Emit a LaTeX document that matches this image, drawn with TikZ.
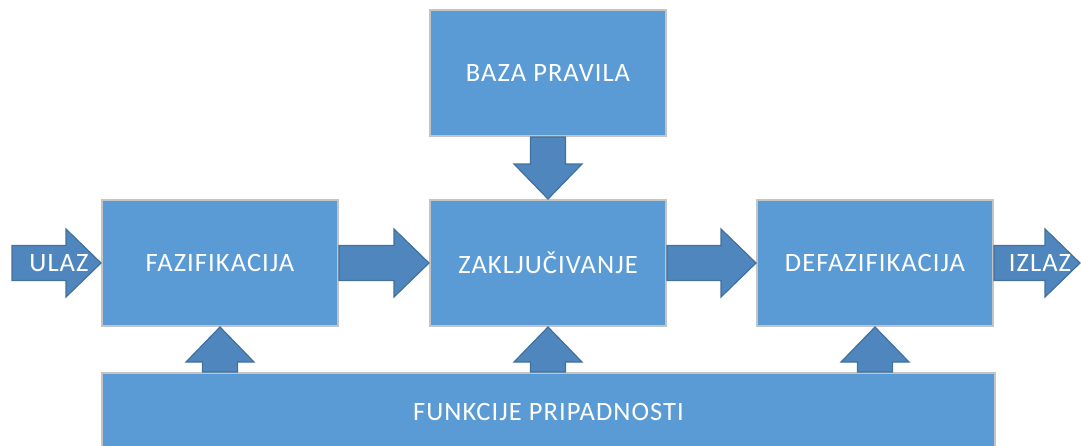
\documentclass[tikz,border=0pt]{standalone}
\usepackage{fontspec}
\setmainfont{Carlito}[LetterSpace=4.0]
\usetikzlibrary{calc}
\usetikzlibrary{positioning}
\definecolor{boxfill}{HTML}{5B9BD5}
\definecolor{boxedge}{HTML}{C4C4C4}
\definecolor{arrowfill}{HTML}{4F86BE}
\definecolor{arrowedge}{HTML}{41719C}
% fat block arrow from #1 to #2
\newcommand\blockarrow[2]{%
  \path ($(#2)!35pt!(#1)$) coordinate (hb);
  \draw[fat arrow] ($(#1)!17.5pt!90:(#2)$) -- ($(hb)!17.5pt!-90:(#1)$)
    -- ($(hb)!34pt!-90:(#1)$) -- (#2) -- ($(hb)!34pt!90:(#1)$)
    -- ($(hb)!17.5pt!90:(#1)$) -- ($(#1)!17.5pt!-90:(#2)$) -- cycle;}
\begin{document}
\begin{tikzpicture}[x=1pt,y=-1pt,
  block/.style={rectangle,draw=boxedge,line width=2pt,fill=boxfill,text=white,
    minimum width=236pt,minimum height=126pt,inner sep=0pt,
    font=\fontsize{26.5}{30}\selectfont},
  fat arrow/.style={draw=arrowedge,line width=1.2pt,fill=arrowfill,line join=miter},
  arrow text/.style={text=white,inner sep=0pt,font=\fontsize{26.5}{30}\selectfont}]

  \useasboundingbox (0,0) rectangle (1081,445);

  \node[block] (faz) at (220,263) {FAZIFIKACIJA};
  \node[block] (zak) [right=90pt of faz] {ZAKLJUČIVANJE};
  \node[block] (defaz) [right=89pt of zak] {DEFAZIFIKACIJA};
  \node[block] (baza) [above=62pt of zak] {BAZA PRAVILA};
  \node[block,minimum width=893pt,minimum height=80pt,anchor=north] (fun)
    at ($(zak.south)+(0.5,45)$) {};
  \node[arrow text] (fun text) at ($(fun.north)+(0,40)$) {FUNKCIJE PRIPADNOSTI};

  \coordinate (in) at (12,263);
  \coordinate (out) at (1080,263);

  \blockarrow{in}{faz.west}
  \blockarrow{faz.east}{zak.west}
  \blockarrow{zak.east}{defaz.west}
  \blockarrow{defaz.east}{out}
  \blockarrow{baza.south}{zak.north}
  \blockarrow{faz.south |- fun.north}{faz.south}
  \blockarrow{zak.south |- fun.north}{zak.south}
  \blockarrow{defaz.south |- fun.north}{defaz.south}

  \node[arrow text] (ulaz) at (59,263) {ULAZ};
  \node[arrow text] (izlaz) at (1040,263) {IZLAZ};

\end{tikzpicture}
\end{document}
